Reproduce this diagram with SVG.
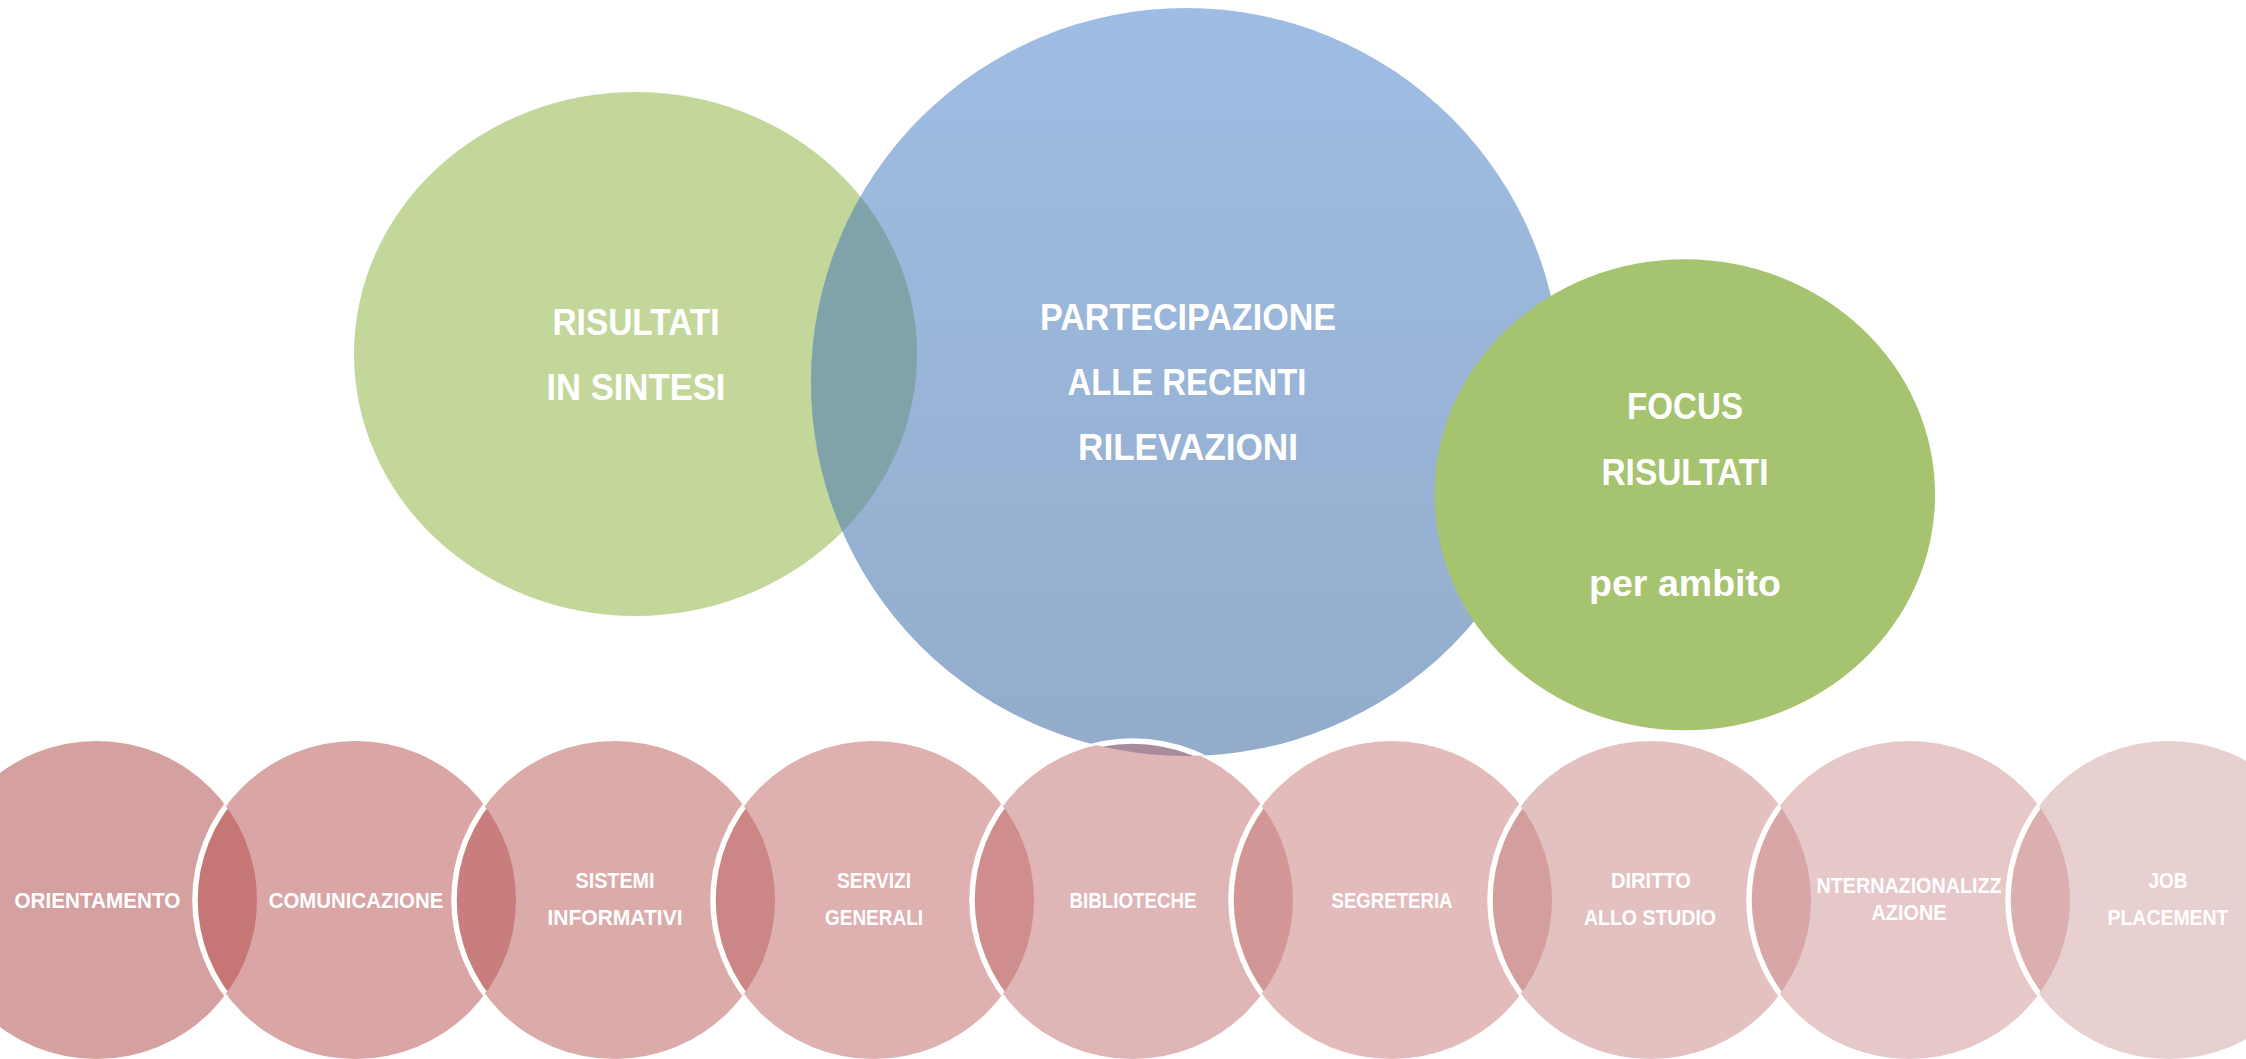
<svg xmlns="http://www.w3.org/2000/svg" width="2246" height="1059" viewBox="0 0 2246 1059">
<style>
text{font-family:"Liberation Sans",Arial,sans-serif;font-weight:bold;fill:#ffffff;text-anchor:middle}
.big{font-size:37px}
.sm{font-size:22px}
.ws{fill:none;stroke:#ffffff;stroke-width:5.5}
</style>
<defs>
<linearGradient id="gb" x1="0" y1="0" x2="0" y2="1">
<stop offset="0" stop-color="#9FBDE4"/>
<stop offset="1" stop-color="#93ACCA"/>
</linearGradient>
<clipPath id="cg"><ellipse cx="635.5" cy="354" rx="281.5" ry="262"/></clipPath>
<clipPath id="cb"><ellipse cx="1186" cy="382" rx="375" ry="374"/></clipPath>
<clipPath id="c1"><ellipse cx="96.5" cy="900" rx="160.5" ry="159"/></clipPath>
<clipPath id="c2"><ellipse cx="355.5" cy="900" rx="160.5" ry="159"/></clipPath>
<clipPath id="c3"><ellipse cx="614.5" cy="900" rx="160.5" ry="159"/></clipPath>
<clipPath id="c4"><ellipse cx="873.5" cy="900" rx="160.5" ry="159"/></clipPath>
<clipPath id="c5"><ellipse cx="1132.5" cy="900" rx="160.5" ry="159"/></clipPath>
<clipPath id="c6"><ellipse cx="1391.5" cy="900" rx="160.5" ry="159"/></clipPath>
<clipPath id="c7"><ellipse cx="1650.5" cy="900" rx="160.5" ry="159"/></clipPath>
<clipPath id="c8"><ellipse cx="1909.5" cy="900" rx="160.5" ry="159"/></clipPath>
</defs>
<rect width="2246" height="1059" fill="#ffffff"/>

<g id="risultati-in-sintesi">
<ellipse cx="635.5" cy="354" rx="281.5" ry="262" fill="#C4D79B"/>
</g>
<g id="partecipazione">
<ellipse cx="1186" cy="382" rx="375" ry="374" fill="url(#gb)"/>
<ellipse cx="1186" cy="382" rx="375" ry="374" fill="#7FA3A9" clip-path="url(#cg)"/>
</g>
<g id="focus-risultati">
<ellipse cx="1684.8" cy="494.7" rx="250.3" ry="235.5" fill="#A6C36F"/>
</g>

<g id="pink-circles">
<g id="orientamento"><ellipse cx="96.5" cy="900" rx="160.5" ry="159" fill="#D5A1A0"/></g>
<g id="comunicazione">
<ellipse cx="355.5" cy="900" rx="160.5" ry="159" fill="#D9A6A5"/>
<ellipse cx="355.5" cy="900" rx="160.5" ry="159" fill="#C67675" clip-path="url(#c1)"/>
<ellipse cx="355.5" cy="900" rx="160.5" ry="159" class="ws" clip-path="url(#c1)"/>
</g>
<g id="sistemi-informativi">
<ellipse cx="614.5" cy="900" rx="160.5" ry="159" fill="#DBABAA"/>
<ellipse cx="614.5" cy="900" rx="160.5" ry="159" fill="#C97E7D" clip-path="url(#c2)"/>
<ellipse cx="614.5" cy="900" rx="160.5" ry="159" class="ws" clip-path="url(#c2)"/>
</g>
<g id="servizi-generali">
<ellipse cx="873.5" cy="900" rx="160.5" ry="159" fill="#DEB0AF"/>
<ellipse cx="873.5" cy="900" rx="160.5" ry="159" fill="#CC8686" clip-path="url(#c3)"/>
<ellipse cx="873.5" cy="900" rx="160.5" ry="159" class="ws" clip-path="url(#c3)"/>
</g>
<g id="biblioteche">
<ellipse cx="1132.5" cy="900" rx="160.5" ry="159" fill="#E0B5B5"/>
<ellipse cx="1132.5" cy="900" rx="160.5" ry="159" fill="#CF8D8D" clip-path="url(#c4)"/>
<ellipse cx="1132.5" cy="900" rx="160.5" ry="159" class="ws" clip-path="url(#c4)"/>
<ellipse cx="1132.5" cy="900" rx="160.5" ry="159" fill="#A98C9C" clip-path="url(#cb)"/>
<ellipse cx="1132.5" cy="900" rx="160.5" ry="159" class="ws" clip-path="url(#cb)"/>
</g>
<g id="segreteria">
<ellipse cx="1391.5" cy="900" rx="160.5" ry="159" fill="#E3BBBB"/>
<ellipse cx="1391.5" cy="900" rx="160.5" ry="159" fill="#D39696" clip-path="url(#c5)"/>
<ellipse cx="1391.5" cy="900" rx="160.5" ry="159" class="ws" clip-path="url(#c5)"/>
</g>
<g id="diritto-allo-studio">
<ellipse cx="1650.5" cy="900" rx="160.5" ry="159" fill="#E4C1C1"/>
<ellipse cx="1650.5" cy="900" rx="160.5" ry="159" fill="#D59E9E" clip-path="url(#c6)"/>
<ellipse cx="1650.5" cy="900" rx="160.5" ry="159" class="ws" clip-path="url(#c6)"/>
</g>
<g id="internazionalizzazione">
<ellipse cx="1909.5" cy="900" rx="160.5" ry="159" fill="#E6C8C9"/>
<ellipse cx="1909.5" cy="900" rx="160.5" ry="159" fill="#D8A6A7" clip-path="url(#c7)"/>
<ellipse cx="1909.5" cy="900" rx="160.5" ry="159" class="ws" clip-path="url(#c7)"/>
</g>
<g id="job-placement">
<ellipse cx="2168.5" cy="900" rx="160.5" ry="159" fill="#E8D0D0"/>
<ellipse cx="2168.5" cy="900" rx="160.5" ry="159" fill="#DBAEAF" clip-path="url(#c8)"/>
<ellipse cx="2168.5" cy="900" rx="160.5" ry="159" class="ws" clip-path="url(#c8)"/>
</g>
</g>

<g id="connectors"/>

<g id="labels">
<text class="big" x="636" y="334.5" textLength="167" lengthAdjust="spacingAndGlyphs">RISULTATI</text>
<text class="big" x="636" y="400" textLength="179" lengthAdjust="spacingAndGlyphs">IN SINTESI</text>
<text class="big" x="1188" y="330" textLength="296" lengthAdjust="spacingAndGlyphs">PARTECIPAZIONE</text>
<text class="big" x="1187" y="395" textLength="239" lengthAdjust="spacingAndGlyphs">ALLE RECENTI</text>
<text class="big" x="1188" y="459.5" textLength="220" lengthAdjust="spacingAndGlyphs">RILEVAZIONI</text>
<text class="big" x="1685" y="419" textLength="116" lengthAdjust="spacingAndGlyphs">FOCUS</text>
<text class="big" x="1685" y="485" textLength="167" lengthAdjust="spacingAndGlyphs">RISULTATI</text>
<text class="big" x="1685" y="596" textLength="192" lengthAdjust="spacingAndGlyphs">per ambito</text>

<text class="sm" x="97.4" y="908" textLength="166" lengthAdjust="spacingAndGlyphs">ORIENTAMENTO</text>
<text class="sm" x="356" y="908" textLength="174.5" lengthAdjust="spacingAndGlyphs">COMUNICAZIONE</text>
<text class="sm" x="615" y="888" textLength="79" lengthAdjust="spacingAndGlyphs">SISTEMI</text>
<text class="sm" x="615" y="925" textLength="135" lengthAdjust="spacingAndGlyphs">INFORMATIVI</text>
<text class="sm" x="874" y="888" textLength="74" lengthAdjust="spacingAndGlyphs">SERVIZI</text>
<text class="sm" x="874" y="925" textLength="98" lengthAdjust="spacingAndGlyphs">GENERALI</text>
<text class="sm" x="1133" y="907.5" textLength="127" lengthAdjust="spacingAndGlyphs">BIBLIOTECHE</text>
<text class="sm" x="1392" y="907.5" textLength="121" lengthAdjust="spacingAndGlyphs">SEGRETERIA</text>
<text class="sm" x="1651" y="888" textLength="80" lengthAdjust="spacingAndGlyphs">DIRITTO</text>
<text class="sm" x="1650" y="925" textLength="132" lengthAdjust="spacingAndGlyphs">ALLO STUDIO</text>
<text class="sm" x="1909" y="893" textLength="185" lengthAdjust="spacingAndGlyphs">NTERNAZIONALIZZ</text>
<text class="sm" x="1909" y="920" textLength="75" lengthAdjust="spacingAndGlyphs">AZIONE</text>
<text class="sm" x="2168" y="888" textLength="39" lengthAdjust="spacingAndGlyphs">JOB</text>
<text class="sm" x="2168" y="925" textLength="121" lengthAdjust="spacingAndGlyphs">PLACEMENT</text>
</g>
</svg>
